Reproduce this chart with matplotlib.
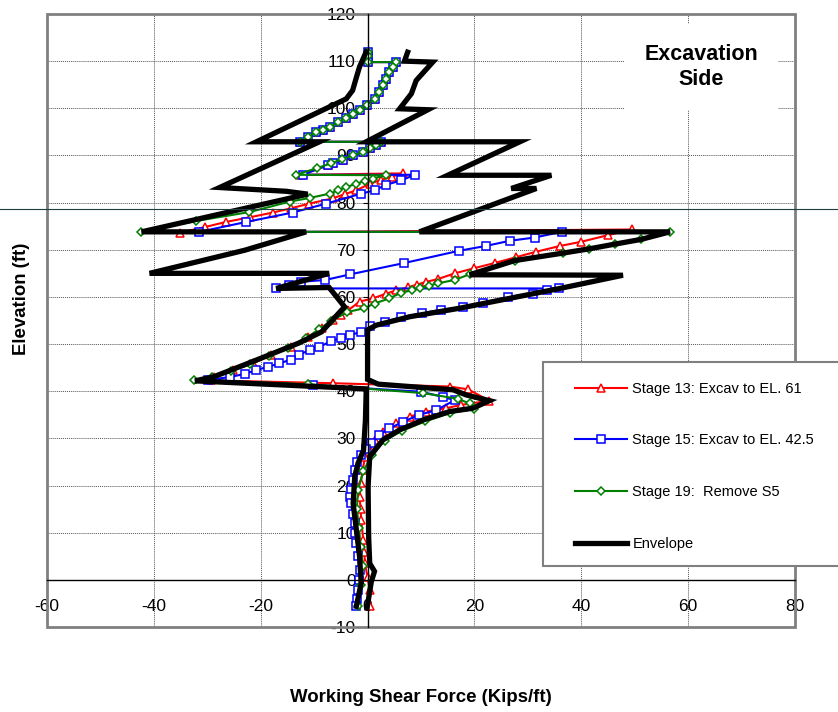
import matplotlib
matplotlib.use("Agg")
import matplotlib.pyplot as plt
from matplotlib.patches import Rectangle
from matplotlib.lines import Line2D

plt.rcParams['font.family'] = ['Liberation Sans', 'DejaVu Sans']
plt.rcParams['axes.unicode_minus'] = False

# (shear kips/ft, elevation ft)
top_pts = [(0, 112), (0, 111), (0, 109.8), (5.4, 109.8), (4.7, 108.8), (4.1, 107.7),
           (3.5, 106.3), (2.9, 104.9), (2.2, 103.5), (1.3, 102), (-0.2, 100.6),
           (-1.5, 99.6), (-2.8, 98.8), (-4, 98), (-5.5, 97), (-7.1, 96), (-8.4, 95.5),
           (-9.6, 95), (-11.2, 93.9), (-12.7, 92.9)]
mid_pts = [(2.6, 92.9), (1.6, 92.2), (0.4, 91.5), (-0.9, 90.7), (-2.7, 90.0),
           (-4.6, 89.1), (-6.5, 88.3), (-7.5, 87.9)]

stage13 = top_pts + mid_pts + [
    (-12.5, 85.9), (6.6, 86.2), (4.5, 85.5), (2.5, 84.8), (0.4, 84.0), (-2.1, 82.6),
    (-4.3, 81.8), (-6.5, 80.9), (-10.9, 79.8), (-14.3, 78.8), (-17.7, 77.9),
    (-22.0, 76.9), (-26.5, 75.9), (-30.5, 74.8), (-35.2, 73.6), (49.4, 74.3),
    (45.0, 73.1), (40.0, 71.7), (36.0, 70.8), (31.6, 69.6), (27.7, 68.4), (23.8, 67.2),
    (20.0, 66.1), (16.3, 65.0), (13.2, 63.8), (11.0, 63.2), (9.2, 62.6), (7.5, 62.0),
    (5.4, 61.4), (3.5, 60.7), (1.0, 59.7), (-1.5, 59.0), (-3.6, 57.2), (-5.0, 56.2),
    (-6.5, 55.1), (-8.6, 53.4), (-11.1, 51.5), (-14.3, 49.4), (-18.0, 47.7),
    (-21.5, 45.9), (-25.1, 44.5), (-28.7, 43.1), (-29.3, 42.3), (-6.5, 41.7),
    (15.4, 41.0), (18.8, 40.4), (22.8, 38.0), (17.5, 37.1), (14.7, 36.4), (11.0, 35.7),
    (7.9, 34.6), (5.4, 33.2), (2.9, 31.4), (1.3, 29.7), (0.0, 28.5), (-0.5, 26.0),
    (-0.9, 23.3), (-1.3, 20.5), (-1.5, 17.6), (-1.3, 15.0), (-1.2, 12.7), (-0.8, 8.5),
    (-0.6, 6.0), (-0.5, 3.5), (0.0, 0.5), (0.4, -2.1), (0.4, -5.6)]

stage15 = top_pts + mid_pts + [
    (-12.1, 85.9), (8.8, 85.9), (6.3, 84.7), (3.5, 83.8), (1.3, 82.6), (-1.2, 81.9),
    (-7.7, 79.8), (-14.0, 77.9), (-22.7, 75.9), (-31.5, 73.8), (36.3, 73.8),
    (31.3, 72.6), (26.6, 71.9), (22.1, 70.8), (17.2, 69.8), (6.9, 67.2), (-3.2, 64.8),
    (-7.9, 63.6), (-12.5, 63.2), (-14.7, 62.6), (-17.1, 61.8), (35.8, 61.8),
    (33.5, 61.5), (31.0, 60.7), (26.3, 60.0), (21.6, 58.8), (17.8, 57.8), (13.8, 57.3),
    (10.1, 56.5), (6.3, 55.7), (3.2, 54.7), (0.4, 53.8), (-1.2, 52.6), (-3.3, 51.9),
    (-5.0, 51.3), (-6.9, 50.6), (-9.0, 49.4), (-10.7, 48.8), (-12.9, 47.7),
    (-14.4, 46.7), (-16.5, 45.9), (-18.6, 45.2), (-20.8, 44.5), (-22.9, 43.7),
    (-25.8, 43.0), (-29.9, 42.4), (-10.2, 41.3), (10.0, 39.9), (14.1, 38.8),
    (16.3, 38.1), (12.9, 36.0), (9.7, 35.0), (6.6, 33.5), (4.1, 32.1), (2.2, 30.7),
    (0.7, 29.0), (-0.3, 27.8), (-1.2, 26.5), (-1.9, 25.0), (-2.4, 23.3), (-2.8, 21.2),
    (-3.1, 19.1), (-3.2, 17.5), (-3.1, 16.2), (-2.8, 14.0), (-2.4, 12.0), (-2.3, 10.0),
    (-2.1, 7.8), (-1.8, 5.0), (-1.5, 2.1), (-1.6, 0.0), (-1.7, -2.1), (-1.9, -4.0),
    (-2.1, -5.6)]

stage19 = top_pts + [
    (2.6, 92.9), (1.6, 92.2), (0.4, 91.5), (-0.9, 90.7), (-2.7, 90.0), (-4.8, 89.2),
    (-6.9, 88.3), (-9.5, 87.3), (-13.4, 85.9), (3.5, 85.8), (1.0, 85.1), (-0.5, 84.6),
    (-2.1, 84.0), (-4.0, 83.3), (-5.5, 82.6), (-7.1, 81.9), (-10.8, 81.0),
    (-14.6, 80.2), (-22.1, 78.0), (-32.1, 76.1), (-42.4, 73.8), (56.6, 73.8),
    (51.2, 72.2), (46.3, 71.2), (41.5, 70.2), (36.6, 69.3), (27.5, 67.7), (19.1, 64.8),
    (16.3, 63.6), (13.2, 62.9), (11.5, 62.4), (9.9, 61.9), (8.3, 61.4), (6.3, 60.9),
    (4.1, 59.7), (1.3, 58.6), (-0.6, 57.6), (-3.8, 56.8), (-6.8, 54.9), (-9.0, 53.2),
    (-11.5, 51.3), (-14.8, 49.2), (-18.5, 47.5), (-22.0, 45.7), (-25.6, 44.3),
    (-29.2, 43.0), (-32.4, 42.4), (-11.2, 41.5), (10.4, 39.6), (16.9, 38.4),
    (19.1, 37.4), (20.0, 36.2), (15.5, 35.4), (10.8, 33.6), (6.4, 31.6), (3.2, 29.5),
    (0.8, 26.5), (-0.8, 23.0), (-1.8, 19.0), (-2.0, 15.0), (-1.6, 11.0), (-1.3, 7.0),
    (-0.9, 3.0), (-1.2, -1.0), (-1.8, -5.6)]

env_max = [(7.5, 111.9), (6.9, 110), (12.2, 109.8), (9.1, 105.9), (8.2, 103.1),
           (6.0, 99.9), (11.3, 99.7), (-0.25, 92.9), (28.5, 92.9), (15.0, 85.8),
           (34.4, 85.8), (26.9, 83.0), (31.6, 83.0), (9.7, 73.8), (56.6, 73.8),
           (51.2, 72.2), (46.3, 71.2), (41.5, 70.2), (36.6, 69.3), (27.5, 67.7),
           (19.1, 64.7), (47.8, 64.6), (36.0, 61.8), (26.6, 59.7), (17.2, 57.6),
           (7.9, 55.8), (1.6, 54.0), (0.0, 53.0), (0.0, 42.5), (2.0, 41.5), (16.0, 40.3),
           (18.5, 39.2), (22.8, 38.0), (19.7, 36.4), (15.4, 35.7), (10.4, 33.9),
           (6.0, 31.8), (2.9, 29.7), (0.4, 26.1), (0.1, 19.8), (0.2, 9.2), (0.4, 3.5),
           (1.3, 1.8), (0.7, -0.4), (-0.1, -6.0)]
env_min = [(-0.25, 112), (-1.5, 108.8), (-1.9, 107.3), (-2.8, 103.8), (-4.0, 102.0),
           (-20.8, 92.9), (-9.0, 92.9), (-27.7, 83.2), (-15.2, 82.4), (-11.2, 81.8),
           (-42.3, 73.8), (-11.5, 73.8), (-23.0, 69.9), (-40.8, 65.0), (-7.2, 65.0),
           (-17.1, 61.8), (-7.2, 62.0), (-4.3, 57.9), (-8.6, 52.6), (-12.9, 50.2),
           (-21.5, 46.3), (-28.7, 43.1), (-32.3, 42.2), (-0.25, 40.5), (-0.4, 33.9),
           (-0.75, 27.5), (-1.8, 24.7), (-2.4, 21.9), (-2.7, 16.2), (-2.1, 10.6),
           (-1.5, 4.9), (-1.2, -0.7), (-2.1, -5.6)]

labels = ["Stage 13: Excav to EL. 61", "Stage 15: Excav to EL. 42.5",
          "Stage 19:  Remove S5", "Envelope"]

W, H = 838, 712
fig = plt.figure(figsize=(W / 100, H / 100), dpi=100)
ax = fig.add_axes([47 / W, 1 - 627 / H, (795 - 47) / W, (627 - 14) / H])


def xy(pts):
    return [p[0] for p in pts], [p[1] for p in pts]


x, y = xy(stage13)
ax.plot(x, y, color='red', lw=1.5, marker='^', ms=5.5, mfc='white', mew=1.1, label=labels[0])
x, y = xy(stage15)
ax.plot(x, y, color='blue', lw=1.5, marker='s', ms=5.8, mfc='white', mew=1.1, label=labels[1])
x, y = xy(stage19)
ax.plot(x, y, color='green', lw=1.5, marker='D', ms=4.2, mfc='white', mew=1.1, label=labels[2])
x, y = xy(env_max)
ax.plot(x, y, color='black', lw=3.8, solid_joinstyle='miter', label=labels[3])
x, y = xy(env_min)
ax.plot(x, y, color='black', lw=3.8, solid_joinstyle='miter')

ax.set_xlim(-60, 80)
ax.set_ylim(-10, 120)
ax.set_xticks(range(-60, 81, 20))
ax.set_yticks(range(-10, 121, 10))
ax.set_axisbelow(True)
ax.grid(True, color='#555555', linestyle=(0, (1, 1)), lw=0.7)

for s in ['top', 'right']:
    ax.spines[s].set_visible(False)
ax.spines['left'].set_position(('data', 0))
ax.spines['bottom'].set_position(('data', 0))
ax.spines['left'].set_linewidth(1)
ax.spines['bottom'].set_linewidth(1)
ax.tick_params(direction='out', width=0.8, labelsize=12.5)
ax.tick_params(axis='x', length=0, pad=14)
ax.tick_params(axis='y', length=3.6, pad=5)
ax.add_patch(Rectangle((0, 0), 1, 1, transform=ax.transAxes, fill=False,
                       edgecolor='#808080', lw=2, clip_on=False))

fig.text(21 / W, 1 - 299 / H, "Elevation (ft)", rotation=90, ha='center', va='center',
         fontsize=13.4, fontweight='bold')
fig.text(421 / W, 1 - 697 / H, "Working Shear Force (Kips/ft)", ha='center', va='center',
         fontsize=13.4, fontweight='bold')
fig.text(701 / W, 1 - 67 / H, "Excavation\nSide", ha='center', va='center',
         fontsize=15.5, fontweight='bold', linespacing=1.2,
         bbox=dict(boxstyle='square,pad=0.95', fc='white', ec='none'))

# stray rule across the page
fig.add_artist(Line2D([0, 1], [1 - 209 / H, 1 - 209 / H], color='#1f3f3f', lw=0.8))

fig.add_artist(Rectangle((543 / W, 1 - 566 / H), (W + 5 - 543) / W, (566 - 362) / H,
                         transform=fig.transFigure, fc='white', ec='#808080', lw=1.5))
fig.legend(loc='upper left', bbox_to_anchor=(569 / W, 1 - 376 / H), frameon=False,
           fontsize=10.5, handlelength=3.6, handletextpad=0.35, labelspacing=2.58,
           borderaxespad=0)

fig.savefig("out.png", dpi=100)
